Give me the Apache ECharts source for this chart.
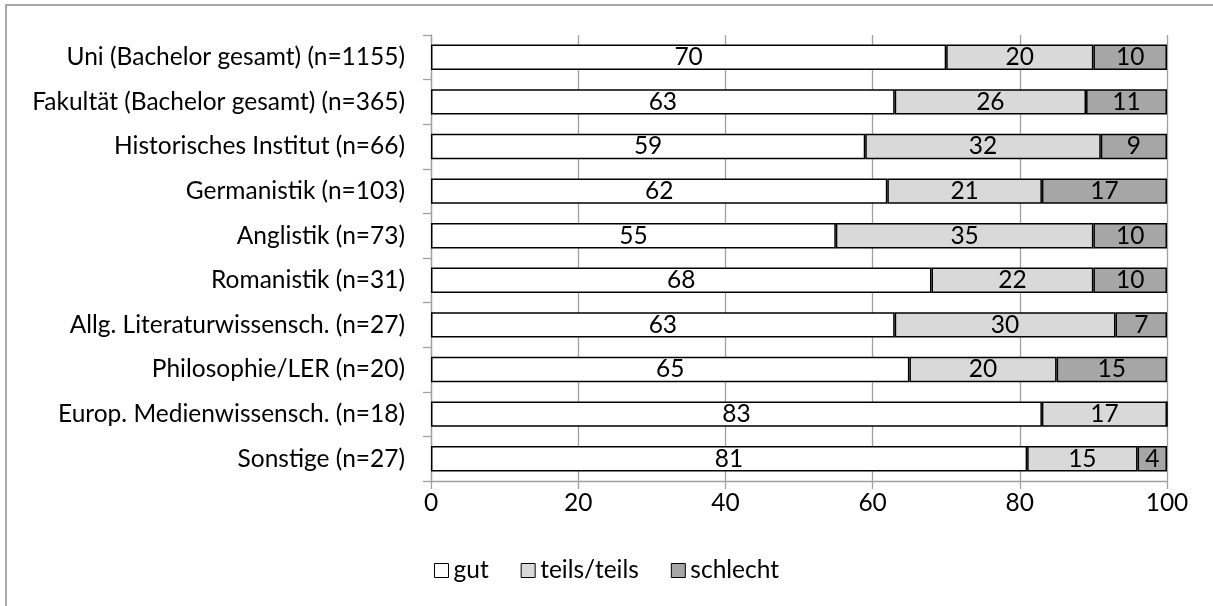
<!DOCTYPE html>
<html><head><meta charset="utf-8">
<script src="https://cdn.jsdelivr.net/npm/echarts@6/dist/echarts.min.js"></script>
<style>html,body{margin:0;padding:0;background:#fff}#c{width:1213px;height:606px}</style>
</head><body><div id="c"></div>
<script>
var categories = ["Uni (Bachelor gesamt) (n=1155)","Fakultät (Bachelor gesamt) (n=365)","Historisches Institut (n=66)","Germanistik (n=103)","Anglistik (n=73)","Romanistik (n=31)","Allg. Literaturwissensch. (n=27)","Philosophie/LER (n=20)","Europ. Medienwissensch. (n=18)","Sonstige (n=27)"];
var gut = [70,63,59,62,55,68,63,65,83,81];
var teils = [20,26,32,21,35,22,30,20,17,15];
var schlecht = [10,11,9,17,10,10,7,15,0,4];
var xTicks = [0,20,40,60,80,100];

var FONT = 'Lato';
var FS = 24.5;
var chart = echarts.init(document.getElementById('c'));
function s(name, data, color){
  return {
    name: name, type: 'bar', stack: 'a', data: data, barWidth: '57%',
    itemStyle: {color: color, borderColor: '#000', borderWidth: 1.5},
    label: {show: true, position: 'inside', color: '#000', fontFamily: FONT, fontSize: FS,
      formatter: function(p){ return p.value ? p.value : ''; }},
    emphasis: {disabled: true}
  };
}
chart.setOption({
  animation: false,
  graphic: [{type:'rect', shape:{x:6,y:5,width:1220,height:620}, style:{fill:'none', stroke:'#8c8c8c', lineWidth:1.5}, silent:true}],
  grid: {left: 431, right: 46, top: 35, height: 446, containLabel: false},
  legend: {
    bottom: 18, left: 'center', itemWidth: 14, itemHeight: 14, itemGap: 32,
    icon: 'rect',
    textStyle: {fontFamily: FONT, fontSize: FS, color: '#000'},
    data: [
      {name:'gut', itemStyle:{color:'#fff', borderColor:'#000', borderWidth:1}},
      {name:'teils/teils', itemStyle:{color:'#d9d9d9', borderColor:'#000', borderWidth:1}},
      {name:'schlecht', itemStyle:{color:'#a6a6a6', borderColor:'#000', borderWidth:1}}
    ],
    selectedMode: false
  },
  xAxis: {
    type: 'value', min: xTicks[0], max: xTicks[xTicks.length-1], interval: 20,
    axisLine: {show: true, lineStyle: {color: '#a0a0a0', width: 1.3}},
    axisTick: {show: true, length: 8, lineStyle: {color: '#a0a0a0', width: 1.3}},
    splitLine: {show: true, lineStyle: {color: '#a0a0a0', width: 1.3}},
    axisLabel: {fontFamily: FONT, fontSize: FS, color: '#000', margin: 10}
  },
  yAxis: {
    type: 'category', data: categories, inverse: true,
    axisLine: {show: true, lineStyle: {color: '#a0a0a0', width: 1.3}},
    axisTick: {show: true, length: 8, lineStyle: {color: '#a0a0a0', width: 1.3}},
    axisLabel: {fontFamily: FONT, fontSize: FS, color: '#000', margin: 26}
  },
  series: [s('gut', gut, '#ffffff'), s('teils/teils', teils, '#d9d9d9'), s('schlecht', schlecht, '#a6a6a6')]
});
</script></body></html>
